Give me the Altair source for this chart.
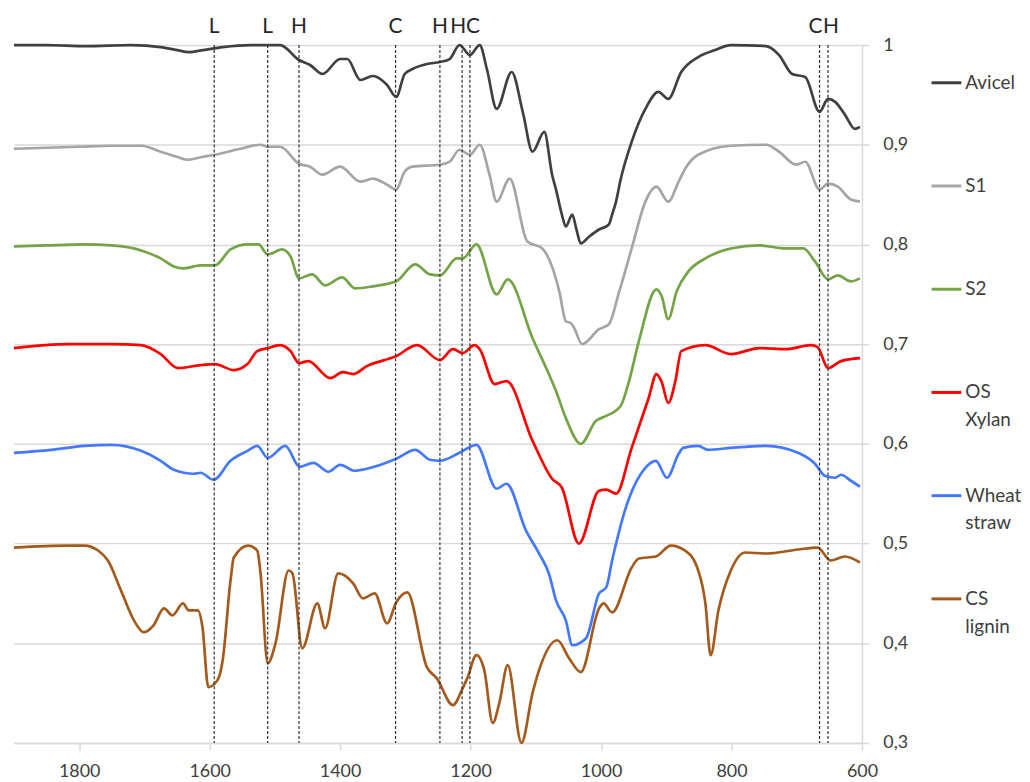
import altair as alt
import pandas as pd

series_names = ["Avicel", "S1", "S2", "OS Xylan", "Wheat straw", "CS lignin"]
series_colors = ["#404040", "#a5a5a5", "#74a447", "#ff0000", "#4479ff", "#a35a1c"]
legend_line1 = ["Avicel", "S1", "S2", "OS", "Wheat", "CS"]
legend_line2 = ["", "", "", "Xylan", "straw", "lignin"]

avicel_wn = [1900, 1850, 1790, 1720, 1675, 1650, 1632, 1610, 1580, 1537, 1492, 1463, 1446, 1427, 1400,
             1389, 1369, 1350, 1328, 1314, 1301, 1289, 1267, 1247, 1232, 1217, 1201, 1186, 1175, 1160,
             1137, 1120, 1105, 1087, 1075, 1069, 1060, 1054, 1044, 1038, 1031, 1018, 1003, 988, 983,
             977, 970, 953, 932, 912, 897, 877, 851, 825, 801, 747, 727, 707, 687, 665, 652, 641,
             626, 611, 603]
avicel_val = [1.0, 1.0, 0.999, 1.0, 0.998, 0.995, 0.993, 0.995, 0.998, 1.0, 1.0, 0.985, 0.98, 0.971, 0.986,
              0.986, 0.965, 0.969, 0.96, 0.948, 0.971, 0.976, 0.981, 0.983, 0.986, 1.0, 0.99, 1.0, 0.976, 0.936,
              0.973, 0.933, 0.893, 0.913, 0.87, 0.855, 0.83, 0.818, 0.83, 0.816, 0.801, 0.808, 0.815, 0.82, 0.83,
              0.843, 0.865, 0.903, 0.936, 0.953, 0.946, 0.973, 0.988, 0.995, 1.0, 0.999, 0.99, 0.971, 0.968,
              0.933, 0.946, 0.943, 0.93, 0.916, 0.918]

s1_wn = [1900, 1850, 1800, 1750, 1705, 1675, 1650, 1634, 1610, 1592, 1553, 1522, 1511, 1492, 1463,
         1446, 1427, 1400, 1369, 1350, 1328, 1314, 1301, 1289, 1247, 1232, 1217, 1201, 1186, 1171,
         1160, 1140, 1113, 1090, 1064, 1054, 1046, 1041, 1029, 1003, 988, 972, 953, 932, 915, 897,
         881, 871, 851, 801, 747, 727, 701, 687, 665, 652, 637, 617, 603]
s1_val = [0.896, 0.897, 0.898, 0.899, 0.899, 0.893, 0.888, 0.885, 0.888, 0.89, 0.896, 0.9, 0.898, 0.898, 0.881,
          0.878, 0.87, 0.878, 0.863, 0.866, 0.86, 0.855, 0.873, 0.878, 0.88, 0.883, 0.895, 0.89, 0.9, 0.87,
          0.843, 0.866, 0.803, 0.796, 0.753, 0.723, 0.721, 0.716, 0.7, 0.715, 0.72, 0.753, 0.796, 0.843,
          0.858, 0.843, 0.863, 0.876, 0.89, 0.899, 0.9, 0.893, 0.88, 0.883, 0.855, 0.861, 0.858, 0.845, 0.843]

s2_wn = [1900, 1850, 1792, 1750, 1705, 1675, 1655, 1640, 1614, 1592, 1568, 1542, 1525, 1511, 1489,
         1476, 1463, 1443, 1423, 1397, 1377, 1350, 1314, 1285, 1262, 1247, 1221, 1212, 1191, 1160,
         1143, 1105, 1080, 1069, 1054, 1031, 1008, 992, 970, 957, 942, 915, 907, 897, 884, 866,
         840, 801, 757, 716, 690, 672, 652, 637, 617, 603]
s2_val = [0.798, 0.799, 0.8, 0.799, 0.794, 0.786, 0.778, 0.776, 0.779, 0.779, 0.795, 0.8, 0.8, 0.79, 0.795,
          0.788, 0.766, 0.77, 0.759, 0.767, 0.756, 0.758, 0.763, 0.78, 0.77, 0.769, 0.786, 0.786, 0.8, 0.75,
          0.765, 0.706, 0.67, 0.653, 0.626, 0.6, 0.623, 0.628, 0.638, 0.663, 0.703, 0.755, 0.748, 0.725,
          0.753, 0.773, 0.786, 0.796, 0.799, 0.796, 0.796, 0.783, 0.765, 0.769, 0.763, 0.766]

os_wn = [1900, 1817, 1750, 1705, 1675, 1649, 1614, 1592, 1563, 1542, 1527, 1511, 1492, 1476, 1463,
         1449, 1415, 1396, 1380, 1359, 1314, 1282, 1247, 1227, 1212, 1194, 1186, 1163, 1145, 1105,
         1075, 1060, 1034, 1003, 992, 977, 953, 927, 915, 907, 897, 886, 877, 840, 801, 757, 716,
         678, 668, 652, 632, 603]
os_val = [0.696, 0.7, 0.7, 0.699, 0.69, 0.676, 0.679, 0.68, 0.674, 0.68, 0.693, 0.696, 0.699, 0.693, 0.681,
          0.683, 0.666, 0.672, 0.67, 0.678, 0.688, 0.699, 0.684, 0.695, 0.691, 0.699, 0.695, 0.66, 0.663, 0.603,
          0.565, 0.556, 0.5, 0.553, 0.554, 0.55, 0.596, 0.646, 0.67, 0.662, 0.641, 0.663, 0.693, 0.699, 0.69,
          0.696, 0.695, 0.699, 0.697, 0.676, 0.683, 0.686]

wheat_wn = [1900, 1843, 1792, 1751, 1705, 1675, 1655, 1624, 1614, 1594, 1568, 1542, 1527, 1511, 1484,
            1462, 1441, 1418, 1400, 1377, 1359, 1314, 1285, 1262, 1247, 1217, 1191, 1160, 1145, 1115,
            1095, 1080, 1069, 1054, 1044, 1023, 1003, 992, 983, 962, 932, 916, 899, 881, 874, 851,
            836, 801, 747, 698, 672, 657, 641, 632, 617, 603]
wheat_val = [0.591, 0.594, 0.598, 0.599, 0.593, 0.583, 0.574, 0.57, 0.571, 0.564, 0.583, 0.593, 0.598, 0.586, 0.598,
             0.577, 0.581, 0.572, 0.579, 0.573, 0.575, 0.585, 0.594, 0.584, 0.583, 0.591, 0.599, 0.555, 0.56, 0.513,
             0.49, 0.47, 0.443, 0.423, 0.398, 0.405, 0.45, 0.456, 0.483, 0.536, 0.576, 0.583, 0.566, 0.59, 0.596,
             0.598, 0.594, 0.596, 0.598, 0.591, 0.58, 0.568, 0.566, 0.569, 0.563, 0.557]

cs_wn = [1900, 1817, 1792, 1771, 1756, 1736, 1716, 1701, 1686, 1670, 1657, 1641, 1632, 1618, 1611,
         1602, 1588, 1580, 1568, 1563, 1541, 1527, 1522, 1511, 1499, 1479, 1473, 1458, 1435, 1423,
         1403, 1380, 1365, 1347, 1328, 1314, 1297, 1267, 1252, 1227, 1212, 1205, 1191, 1179, 1166,
         1156, 1143, 1122, 1105, 1095, 1067, 1049, 1031, 1003, 996, 983, 953, 942, 916, 893, 871,
         851, 840, 832, 820, 801, 779, 747, 698, 668, 648, 626, 603]
cs_val = [0.496, 0.498, 0.498, 0.493, 0.483, 0.453, 0.423, 0.411, 0.418, 0.435, 0.428, 0.44, 0.433, 0.433, 0.416,
          0.356, 0.363, 0.383, 0.463, 0.486, 0.498, 0.493, 0.47, 0.38, 0.4, 0.473, 0.47, 0.395, 0.44, 0.415,
          0.47, 0.46, 0.445, 0.45, 0.42, 0.441, 0.451, 0.376, 0.365, 0.338, 0.355, 0.365, 0.388, 0.373, 0.32,
          0.34, 0.378, 0.3, 0.35, 0.373, 0.403, 0.385, 0.371, 0.435, 0.44, 0.431, 0.476, 0.485, 0.487, 0.498, 0.493,
          0.473, 0.44, 0.388, 0.433, 0.473, 0.491, 0.49, 0.494, 0.496, 0.483, 0.487, 0.481]

band_wn = [1593, 1511, 1463, 1315, 1247, 1213, 1201, 665, 652]
band_label = ["L", "L", "H", "C", "H", "H", "C", "C", "H"]

y_ticks = [0.3, 0.4, 0.5, 0.6, 0.7, 0.8, 0.9, 1.0]
x_ticks = [1800, 1600, 1400, 1200, 1000, 800, 600]

FONT = "Lato"
TXT = "#404040"
GRID = "#d9d9d9"

frames = []
for name, wn, val in [
    ("Avicel", avicel_wn, avicel_val),
    ("S1", s1_wn, s1_val),
    ("S2", s2_wn, s2_val),
    ("OS Xylan", os_wn, os_val),
    ("Wheat straw", wheat_wn, wheat_val),
    ("CS lignin", cs_wn, cs_val),
]:
    frames.append(pd.DataFrame({"series": name, "wn": wn, "val": val}))
spectra = pd.concat(frames, ignore_index=True)

bands = pd.DataFrame({"wn": band_wn, "label": band_label})
legend_df = pd.DataFrame({"series": series_names, "line1": legend_line1, "line2": legend_line2})

color_scale = alt.Scale(domain=series_names, range=series_colors)
x_scale = alt.Scale(domain=[600, 1900], reverse=True, nice=False, zero=False)
y_scale = alt.Scale(domain=[0.3, 1.0], nice=False, zero=False)

lines = alt.Chart(spectra).mark_line(strokeWidth=2.7, interpolate="monotone").encode(
    x=alt.X("wn:Q", scale=x_scale,
            axis=alt.Axis(values=x_ticks, title=None, grid=False, domainColor=GRID, domainWidth=1.5,
                          tickColor=GRID, tickSize=7, tickWidth=1.5, labelFont=FONT, labelFontSize=18,
                          labelColor=TXT, labelPadding=13, labelFlush=False, format="d")),
    y=alt.Y("val:Q", scale=y_scale,
            axis=alt.Axis(orient="right", values=y_ticks, title=None, grid=True, gridColor=GRID,
                          gridWidth=1.5, domainColor=GRID, domainWidth=1.5, tickColor=GRID, tickSize=7,
                          tickWidth=1.5, labelFont=FONT, labelFontSize=18, labelColor=TXT, labelPadding=14,
                          labelFlush=False,
                          labelExpr="datum.value == 1 ? '1' : replace(format(datum.value, '.1f'), '.', ',')")),
    color=alt.Color("series:N", scale=color_scale, legend=None),
    detail="series:N",
)

rules = alt.Chart(bands).mark_rule(color="#303030", strokeDash=[3, 2], strokeWidth=1.2).encode(
    x=alt.X("wn:Q", scale=x_scale)
)

txt_center = alt.Chart(bands).transform_filter(
    "datum.wn != 1213 && datum.wn != 1201 && datum.wn != 665 && datum.wn != 652"
).mark_text(font=FONT, fontSize=21, color="#262626", baseline="middle").encode(
    x=alt.X("wn:Q", scale=x_scale), y=alt.value(-18), text="label:N")
txt_left = alt.Chart(bands).transform_filter("datum.wn == 1213 || datum.wn == 665").mark_text(
    font=FONT, fontSize=21, color="#262626", baseline="middle", dx=-4).encode(
    x=alt.X("wn:Q", scale=x_scale), y=alt.value(-18), text="label:N")
txt_right = alt.Chart(bands).transform_filter("datum.wn == 1201 || datum.wn == 652").mark_text(
    font=FONT, fontSize=21, color="#262626", baseline="middle", dx=3).encode(
    x=alt.X("wn:Q", scale=x_scale), y=alt.value(-18), text="label:N")

main = alt.layer(lines, rules, txt_center, txt_left, txt_right).properties(width=853, height=702)

leg_y = alt.Y("series:N", scale=alt.Scale(domain=series_names, range=[-14, 609]), axis=None)
leg_rules = alt.Chart(legend_df).mark_rule(strokeWidth=3).encode(
    x=alt.value(0), x2=alt.value(30), y=leg_y,
    color=alt.Color("series:N", scale=color_scale, legend=None))
leg_t1 = alt.Chart(legend_df).mark_text(align="left", baseline="middle", font=FONT, fontSize=19,
                                        color=TXT).encode(x=alt.value(34), y=leg_y, text="line1:N")
leg_t2 = alt.Chart(legend_df).mark_text(align="left", baseline="middle", font=FONT, fontSize=19,
                                        color=TXT, dy=28).encode(x=alt.value(34), y=leg_y, text="line2:N")
legend = alt.layer(leg_rules, leg_t1, leg_t2).properties(width=64, height=702)

chart = alt.hconcat(main, legend, spacing=22).properties(
    padding={"left": 0, "top": 6, "right": 0, "bottom": 0}
).configure_view(strokeWidth=0)

chart.save("out.html", embed_options={"renderer": "svg", "actions": False})
